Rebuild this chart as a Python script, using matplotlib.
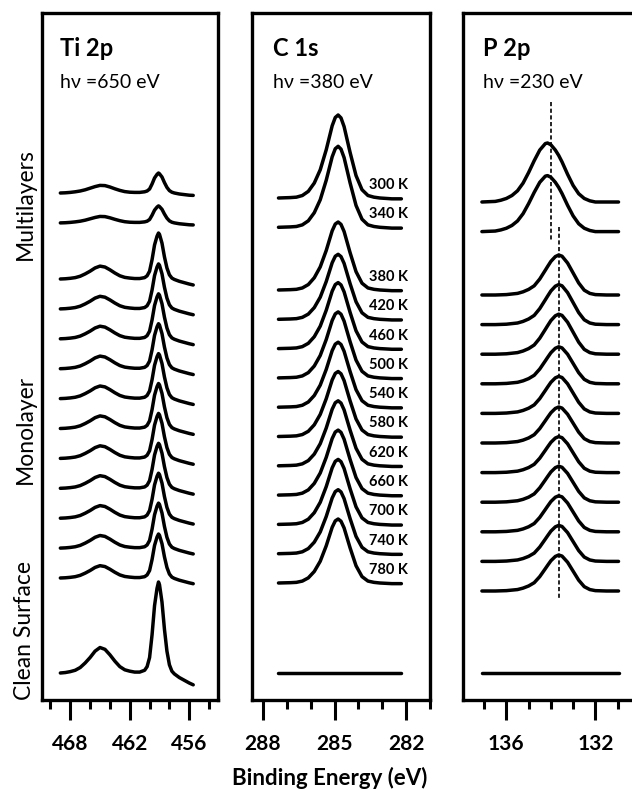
import matplotlib.pyplot as plt
from matplotlib.ticker import MultipleLocator
import numpy as np

plt.rcParams['font.family'] = ['Lato', 'DejaVu Sans']

# ---------------- Ti 2p (hv = 650 eV)
ti_energy = [469.0, 468.5, 468.0, 467.5, 467.0, 466.5, 466.0, 465.5, 465.0, 464.5,
             464.0, 463.5, 463.0, 462.5, 462.0, 461.5, 461.0, 460.5, 460.25, 460.0,
             459.75, 459.5, 459.25, 459.1, 459.0, 458.75, 458.5, 458.25, 458.0, 457.75,
             457.5, 457.0, 456.5, 456.0, 455.6]
ti_mono_shape = [0.00, 0.005, 0.015, 0.03, 0.06, 0.11, 0.17, 0.24, 0.28, 0.26,
                 0.20, 0.13, 0.07, 0.035, 0.02, 0.01, 0.01, 0.03, 0.07, 0.17,
                 0.42, 0.74, 0.93, 1.00, 0.97, 0.78, 0.48, 0.24, 0.09, 0.02,
                 -0.01, -0.05, -0.08, -0.11, -0.13]
ti_multi_shape = [0.00, 0.01, 0.03, 0.06, 0.10, 0.16, 0.24, 0.32, 0.38, 0.37,
                  0.30, 0.21, 0.13, 0.07, 0.04, 0.03, 0.03, 0.06, 0.10, 0.20,
                  0.45, 0.75, 0.93, 1.00, 0.96, 0.80, 0.52, 0.28, 0.12, 0.04,
                  0.00, -0.05, -0.08, -0.11, -0.12]
ti_multi_amp = [20, 17]
ti_mono_amp = [46, 45, 45, 45, 45, 45, 45, 45, 45, 45, 44]
ti_clean_amp = 91

# ---------------- C 1s (hv = 380 eV)
c_energy = [287.35, 286.85, 286.6, 286.35, 286.1, 285.85, 285.6, 285.35, 285.1, 284.97,
            284.85, 284.73, 284.6, 284.35, 284.1, 283.85, 283.6, 283.35, 283.1, 282.6, 282.2]
c_shape = [0.00, 0.005, 0.01, 0.03, 0.08, 0.18, 0.34, 0.58, 0.87, 0.97,
           1.00, 0.965, 0.86, 0.55, 0.27, 0.10, 0.03, 0.01, 0.00, -0.01, -0.01]
c_multi_amp = [83, 81]
c_mono_amp = [68, 65, 66, 66, 65, 65, 65, 65, 65, 64, 64]
c_clean_amp = 0
temps = ['300 K', '340 K', '380 K', '420 K', '460 K', '500 K', '540 K',
         '580 K', '620 K', '660 K', '700 K', '740 K', '780 K']

# ---------------- P 2p (hv = 230 eV)
p_energy = [137.1, 136.5, 136.25, 136.0, 135.75, 135.5, 135.25, 135.0, 134.75, 134.5,
            134.25, 134.15, 134.0, 133.8, 133.65, 133.5, 133.25, 133.0, 132.75, 132.5,
            132.25, 132.0, 131.5, 130.96]
p_mono_shape = [0.00, 0.00, 0.005, 0.01, 0.025, 0.04, 0.08, 0.14, 0.23, 0.40,
                0.62, 0.71, 0.84, 0.96, 1.00, 0.97, 0.80, 0.55, 0.30, 0.12,
                0.04, 0.01, 0.00, 0.00]
p_multi_shape = [0.00, 0.01, 0.03, 0.06, 0.11, 0.19, 0.32, 0.50, 0.70, 0.88,
                 0.99, 1.00, 0.97, 0.88, 0.79, 0.68, 0.47, 0.28, 0.14, 0.06,
                 0.02, 0.00, 0.00, 0.00]
p_multi_amp = [59, 56]
p_mono_amp = [40, 40, 40, 37, 37, 36, 36, 36, 36, 36, 36]
p_clean_amp = 0
p_dash_energy = [134.0, 133.65]

W, H = 632, 790
fig = plt.figure(figsize=(W / 100, H / 100), dpi=100)

def px_axes(x0, x1, y0=13, y1=700):
    return fig.add_axes([x0 / W, 1 - y1 / H, (x1 - x0) / W, (y1 - y0) / H])

ax1 = px_axes(42, 218)
ax2 = px_axes(252, 430)
ax3 = px_axes(463, 641)
axes = [ax1, ax2, ax3]

def stack(first, step, gap, n_multi=2, n_mono=11, clean=673):
    # baseline rows (pixels from top) -> y offsets in axis units
    rows = [first + i * step for i in range(n_multi)]
    rows += [rows[-1] + gap + j * step for j in range(n_mono)]
    rows += [clean]
    return [700 - r for r in rows]

lw = 2.5
def draw(ax, energy, shapes, amps, offs):
    for shp, a, o in zip(shapes, amps, offs):
        ax.plot(energy, o + a * np.array(shp), color='black', lw=lw,
                solid_joinstyle='round', solid_capstyle='round')

# Ti
offs = stack(193, 29.9, 56.1)
shapes = [ti_multi_shape] * 2 + [ti_mono_shape] * 12
draw(ax1, ti_energy, shapes, ti_multi_amp + ti_mono_amp + [ti_clean_amp], offs)

# C
offs_c = stack(198, 29.3, 62.7)
draw(ax2, c_energy, [c_shape] * 14, c_multi_amp + c_mono_amp + [c_clean_amp], offs_c)
for t, o in zip(temps, offs_c[:-1]):
    ax2.text(283.57, o + 13, t, fontsize=10.5, fontweight='bold', ha='left', va='center')

# P
offs_p = stack(202, 29.6, 63.4)
shapes = [p_multi_shape] * 2 + [p_mono_shape] * 12
draw(ax3, p_energy, shapes, p_multi_amp + p_mono_amp + [p_clean_amp], offs_p)
for e, (r0, r1) in zip(p_dash_energy, [(102, 242), (227, 598)]):
    ax3.plot([e, e], [700 - r0, 700 - r1], color='black', lw=1.2, ls=(0, (2.5, 1.5)))

limits = [(470.85, 453.1), (288.46, 281.0), (137.95, 129.95)]
majors = [6, 3, 4]
titles = ['Ti 2p', 'C 1s', 'P 2p']
hvs = ['h\u03bd =650 eV', 'h\u03bd =380 eV', 'h\u03bd =230 eV']
text_x = [60, 273, 483]
ax_x0 = [42, 252, 463]
for ax, lim, mj, ttl, hv, tx, x0 in zip(axes, limits, majors, titles, hvs, text_x, ax_x0):
    ax.set_xlim(lim)
    ax.set_ylim(0, 687)
    ax.set_yticks([])
    ax.xaxis.set_major_locator(MultipleLocator(mj))
    ax.xaxis.set_minor_locator(MultipleLocator(1 if mj != 6 else 2))
    ax.tick_params(axis='x', which='major', direction='out', length=14.4, width=2.2,
                   labelsize=15, pad=10)
    ax.tick_params(axis='x', which='minor', direction='out', length=6.5, width=2.2)
    for lab in ax.get_xticklabels():
        lab.set_fontweight('bold')
    for sp in ax.spines.values():
        sp.set_linewidth(2.4)
    fx = (tx - x0) / 178
    ax.text(fx, (700 - 49) / 687, ttl, transform=ax.transAxes, fontsize=17,
            fontweight='bold', ha='left', va='center')
    ax.text(fx, (700 - 83) / 687, hv, transform=ax.transAxes, fontsize=14,
            ha='left', va='center')

fig.text(25 / W, 1 - 204 / H, 'Multilayers', rotation=90, fontsize=16.5, ha='center', va='center')
fig.text(25 / W, 1 - 429 / H, 'Monolayer', rotation=90, fontsize=16.5, ha='center', va='center')
fig.text(25 / W, 1 - 631 / H, 'Clean Surface', rotation=90, fontsize=16.5, ha='center', va='center')
fig.text(330 / W, 1 - 778 / H, 'Binding Energy (eV)', fontsize=16, fontweight='bold',
         ha='center', va='center')

fig.savefig('out.png', dpi=100)
